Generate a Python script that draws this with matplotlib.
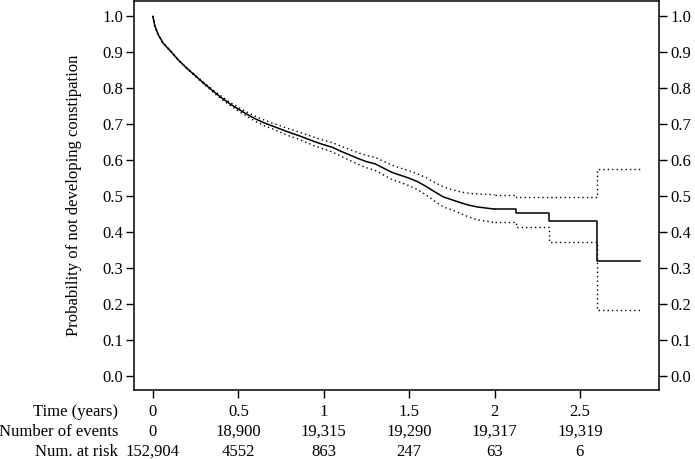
import matplotlib
matplotlib.use('Agg')
from matplotlib import pyplot as plt

plt.rcParams['font.family'] = ['Liberation Serif', 'DejaVu Serif']

# Kaplan-Meier estimate (time in years)
times = [0, 0.01, 0.03, 0.06, 0.1, 0.15, 0.2, 0.25, 0.3, 0.35, 0.4, 0.45, 0.5, 0.55, 0.6,
         0.65, 0.7, 0.75, 0.8, 0.85, 0.9, 0.95, 1.0, 1.05, 1.1, 1.15, 1.2, 1.25, 1.3, 1.35,
         1.4, 1.45, 1.5, 1.55, 1.6, 1.65, 1.7, 1.75, 1.8, 1.85, 1.9, 2.0, 2.125, 2.317,
         2.598, 2.85]
surv = [1.0, 0.975, 0.950, 0.925, 0.905, 0.878, 0.855, 0.834, 0.813, 0.793, 0.774, 0.757,
        0.742, 0.728, 0.715, 0.704, 0.695, 0.686, 0.677, 0.669, 0.660, 0.651, 0.643, 0.636,
        0.625, 0.615, 0.605, 0.596, 0.590, 0.578, 0.566, 0.558, 0.550, 0.540, 0.527, 0.512,
        0.498, 0.490, 0.482, 0.475, 0.470, 0.464, 0.452, 0.430, 0.321, 0.321]
upper = [1.0, 0.976, 0.951, 0.926, 0.906, 0.879, 0.856, 0.836, 0.815, 0.796, 0.778, 0.761,
         0.747, 0.734, 0.722, 0.712, 0.703, 0.695, 0.687, 0.679, 0.671, 0.663, 0.655, 0.649,
         0.639, 0.630, 0.621, 0.613, 0.608, 0.597, 0.586, 0.578, 0.571, 0.562, 0.551, 0.538,
         0.526, 0.518, 0.512, 0.508, 0.506, 0.504, 0.498, 0.498, 0.576, 0.576]
lower = [1.0, 0.974, 0.949, 0.924, 0.904, 0.877, 0.854, 0.832, 0.811, 0.790, 0.770, 0.753,
         0.737, 0.722, 0.708, 0.696, 0.687, 0.677, 0.667, 0.659, 0.649, 0.639, 0.631, 0.623,
         0.611, 0.600, 0.589, 0.579, 0.572, 0.559, 0.546, 0.538, 0.529, 0.518, 0.503, 0.486,
         0.470, 0.462, 0.452, 0.442, 0.434, 0.427, 0.414, 0.372, 0.183, 0.183]

# risk table
tab_times = [0, 0.5, 1, 1.5, 2, 2.5]
tab_labels = ['0', '0.5', '1', '1.5', '2', '2.5']
n_events = ['0', '18,900', '19,315', '19,290', '19,317', '19,319']
n_risk = ['152,904', '4552', '863', '247', '63', '6']
row_names = ['Time (years)', 'Number of events', 'Num. at risk']

fig = plt.figure(figsize=(6.95, 4.59), dpi=100)
ax = fig.add_axes([0.1928, 0.1503, 0.7554, 0.847])

# smooth part as a line, late part as steps
k = times.index(2.0) + 1
dot = (0, (1, 2.2))
for ys, ls in [(surv, '-'), (upper, dot), (lower, dot)]:
    lw = 1.1 if ls == '-' else 1.0
    ax.plot(times[:k], ys[:k], color='black', ls=ls, lw=lw)
    ax.step(times[k - 1:], ys[k - 1:], where='post', color='black', ls=ls, lw=lw)

ax.set_xlim(-0.111, 2.963)
ax.set_ylim(-0.039, 1.042)
yt = [i / 10 for i in range(11)]
ax.set_yticks(yt)
ax.set_yticklabels(['%.1f' % v for v in yt])
ax.set_xticks(tab_times)
ax.set_xticklabels([])
ax.tick_params(axis='both', direction='out', length=6, width=1, labelsize=12, pad=2)
ax.tick_params(axis='y', left=True, right=True, labelleft=True, labelright=True)
for s in ax.spines.values():
    s.set_linewidth(1.1)

ax.set_ylabel('Probability of not developing constipation', fontsize=12)
ax.yaxis.set_label_coords(-0.099, 0.5)

tr = ax.get_xaxis_transform()
rows = [tab_labels, n_events, n_risk]
ypos = [-0.0564, -0.1077, -0.159]
for r, yy, name in zip(rows, ypos, row_names):
    ax.text(-0.0305, yy, name, transform=ax.transAxes, ha='right', va='center', fontsize=12)
    for t, lab in zip(tab_times, r):
        ax.text(t, yy, lab, transform=tr, ha='center', va='center', fontsize=12)

fig.savefig('out.png', dpi=100)
